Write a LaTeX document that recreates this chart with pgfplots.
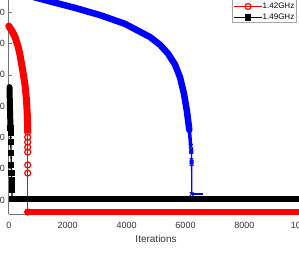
\documentclass[border=0pt]{standalone}
\usepackage{fontspec}
\setmainfont{Liberation Sans}
\usepackage{pgfplots}
\pgfplotsset{compat=1.18}
\begin{document}
\begin{tikzpicture}
\fill[white] (0,0) rectangle (299pt,258pt);
\begin{scope}
\clip (0,0) rectangle (299pt,258pt);
\begin{axis}[
  at={(8.8pt,43.7pt)}, anchor=south west,
  scale only axis, width=294.5pt, height=233.3pt,
  xmin=0, xmax=10000, ymin=5.43, ymax=80,
  clip=false,
  axis lines*=left,
  axis line style={-, black!55, line width=0.6pt},
  tick style={black!55, line width=0.6pt},
  tick align=inside, major tick length=3pt,
  xtick={0,2000,4000,6000,8000,10000},
  ytick={10,20,30,40,50,60,70},
  scaled ticks=false,
  /pgf/number format/1000 sep={},
  /pgf/number format/assume math mode=true,
  ticklabel style={font=\fontsize{9}{10}\selectfont, text=black!80},
  xticklabel style={inner sep=0pt, anchor=north, yshift=-7.5pt},
  yticklabel style={inner sep=0pt, anchor=east, xshift=-3.8pt},
  xlabel={Iterations},
  xlabel style={at={(axis description cs:0.5,0)}, anchor=north, inner sep=0pt, yshift=-20.4pt, font=\fontsize{10}{12}\selectfont, text=black!80},
  legend cell align=left,
  legend image code/.code={\draw[mark repeat=2,mark phase=2] plot coordinates {(0pt,0pt)(14pt,0pt)(28pt,0pt)};},
  legend style={at={(axis description cs:0.9752,0.820)}, anchor=south east, draw=black!35, line width=0.5pt, fill=white,
    font=\fontsize{8}{9}\selectfont, inner xsep=1.5pt, inner ysep=1.5pt, row sep=3.5pt,
    nodes={inner sep=0pt, text height=6pt, text depth=1.5pt},
    /tikz/every even column/.append style={column sep=3pt}},
]
% ---- blue series ----
\addplot[blue, line width=6.5pt, line cap=round, line join=round, forget plot] coordinates {
 (0,77.1) (720,75.2) (1392,73.5) (2248,71.4) (3097,69.1) (3946,66.3) (4795,62.1)
 (5134,59.6) (5406,56.8) (5644,53.3) (5815,49.2) (5950,43.9) (6053,38.1) (6129,32.4)
};
\addplot[blue, line width=3.5pt, line cap=round, forget plot] coordinates {(6129,32.4) (6177,27.3)};
\addplot[blue, line width=1.3pt, forget plot] coordinates {(6211,11.9) (6594,11.9)};
\addplot[blue, line width=1.3pt, mark=x, mark size=2.6pt, mark options={solid, line width=1pt}] coordinates {
 (6177,27.3) (6195,26.0) (6197,25.7) (6199,25.3) (6204,22.8) (6206,22.1) (6208,21.5) (6211,11.9)
};
\addlegendentry{1.35GHz}
% ---- red series ----
\addplot[red, line width=7pt, line cap=round, line join=round, forget plot] coordinates {
 (0,65.6) (109,64.0) (211,62.1) (312,59.2) (380,56.4) (482,50.9) (550,46.8) (601,42.0) (628,37.2) (642,32.4)
};
\addplot[red, line width=6.5pt, line cap=round, forget plot] coordinates {(642,6.16) (10000,6.16)};
\addplot[red, line width=1.3pt, mark=o, mark size=3pt, mark options={solid, line width=1.2pt}] coordinates {
 (642,32.4) (642,31.7) (642,30.1) (642,28.5) (642,26.9) (642,25.3) (642,21.2) (642,18.6) (642,6.16) (10000,6.16)
};
\addlegendentry{1.42GHz}
% ---- black series ----
\addplot[black, line width=6pt, line cap=round, line join=round, forget plot] coordinates {
 (24,46.1) (41,38.8) (58,33.0)
};
\addplot[black, line width=6pt, line cap=round, forget plot] coordinates {(109,10.3) (10000,10.3)};
\addplot[black, line width=1.3pt, mark=square*, mark size=2.4pt, mark options={solid}] coordinates {
 (58,33.0) (60,31.4) (68,28.5) (75,25.0) (85,21.2) (92,18.6) (96,16.4) (102,14.8) (105,13.2) (109,10.3) (10000,10.3)
};
\addlegendentry{1.49GHz}
\end{axis}
\end{scope}
\pgfresetboundingbox
\path[use as bounding box] (0,0) rectangle (299pt,258pt);
\end{tikzpicture}
\end{document}
